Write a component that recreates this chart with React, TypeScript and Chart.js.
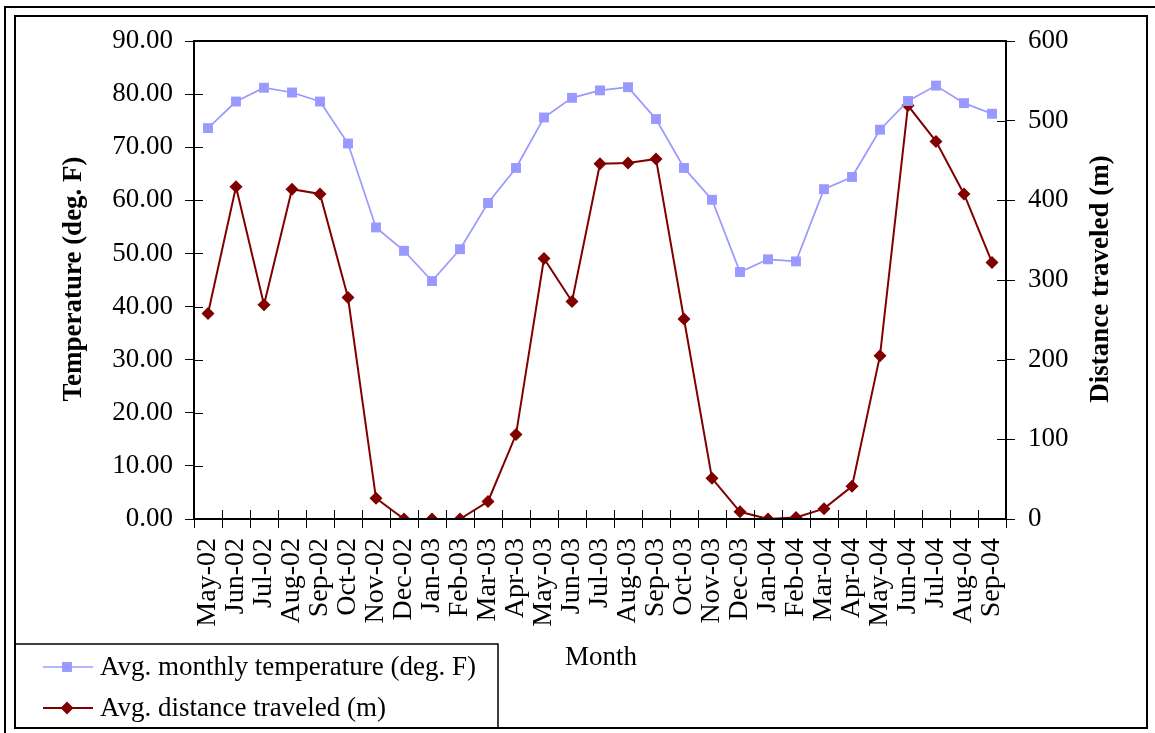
import React, { useEffect, useRef } from "react";
import { Chart, registerables } from "chart.js";

Chart.register(...registerables);

const months = [
  "May-02", "Jun-02", "Jul-02", "Aug-02", "Sep-02", "Oct-02", "Nov-02", "Dec-02",
  "Jan-03", "Feb-03", "Mar-03", "Apr-03", "May-03", "Jun-03", "Jul-03", "Aug-03",
  "Sep-03", "Oct-03", "Nov-03", "Dec-03", "Jan-04", "Feb-04", "Mar-04", "Apr-04",
  "May-04", "Jun-04", "Jul-04", "Aug-04", "Sep-04",
];

const temperature = [
  73.6, 78.6, 81.2, 80.3, 78.6, 70.7, 54.9, 50.5,
  44.8, 50.8, 59.5, 66.1, 75.6, 79.3, 80.7, 81.3,
  75.3, 66.1, 60.1, 46.5, 48.9, 48.5, 62.1, 64.4,
  73.3, 78.7, 81.6, 78.3, 76.3,
];

const distance = [
  258, 417, 269, 414, 408, 278, 26, 0,
  0, 0, 22, 106, 327, 273, 446, 447,
  452, 251, 51, 9, 0, 2, 13, 41,
  205, 519, 474, 408, 322,
];

const tempLabel = "Avg. monthly temperature (deg. F)";
const distLabel = "Avg. distance traveled (m)";
const leftTitle = "Temperature (deg. F)";
const rightTitle = "Distance traveled (m)";
const xTitle = "Month";

const FONT = "'Liberation Serif', 'Times New Roman', serif";
const W = 1155;
const H = 733;

const decorPlugin = {
  id: "decor",
  beforeDraw(chart: any) {
    const ctx = chart.ctx;
    ctx.save();
    ctx.fillStyle = "#ffffff";
    ctx.fillRect(0, 0, W, H);
    ctx.restore();
  },
  afterDraw(chart: any) {
    const ctx = chart.ctx;
    const { left, right, top, bottom } = chart.chartArea;
    ctx.save();
    // frames
    ctx.strokeStyle = "#000";
    ctx.lineWidth = 2;
    ctx.beginPath();
    ctx.moveTo(5, H);
    ctx.lineTo(5, 7);
    ctx.lineTo(W, 7);
    ctx.stroke();
    ctx.strokeRect(15, 16, 1147 - 15, 728 - 16);

    // plot area box
    ctx.lineWidth = 2;
    ctx.strokeRect(left, top, right - left, bottom - top);

    // inner halves of tick marks
    ctx.lineWidth = 1;
    const ys = chart.scales.y;
    ys.ticks.forEach((_t: any, i: number) => {
      const p = Math.round(ys.getPixelForTick(i)) + 0.5;
      ctx.beginPath();
      ctx.moveTo(left, p);
      ctx.lineTo(left + 9, p);
      ctx.stroke();
    });
    const y1 = chart.scales.y1;
    y1.ticks.forEach((_t: any, i: number) => {
      const p = Math.round(y1.getPixelForTick(i)) + 0.5;
      ctx.beginPath();
      ctx.moveTo(right - 9, p);
      ctx.lineTo(right, p);
      ctx.stroke();
    });
    const xs = chart.scales.x;
    for (let i = 0; i <= months.length; i++) {
      const p = Math.round(xs.getPixelForValue(i - 0.5)) + 0.5;
      ctx.beginPath();
      ctx.moveTo(p, bottom - 9);
      ctx.lineTo(p, bottom);
      ctx.stroke();
    }

    // axis titles
    ctx.fillStyle = "#000";
    ctx.textAlign = "center";
    ctx.textBaseline = "middle";
    ctx.font = `bold 27px ${FONT}`;
    ctx.save();
    ctx.translate(74, 279);
    ctx.rotate(-Math.PI / 2);
    ctx.fillText(leftTitle, 0, 0);
    ctx.restore();
    ctx.save();
    ctx.translate(1101, 279);
    ctx.rotate(-Math.PI / 2);
    ctx.fillText(rightTitle, 0, 0);
    ctx.restore();
    ctx.font = `27px ${FONT}`;
    ctx.fillText(xTitle, 601, 658);

    // legend
    ctx.lineWidth = 1.5;
    ctx.strokeStyle = "#000";
    ctx.strokeRect(15, 644, 498 - 15, 728 - 644);
    const rows = [
      { ds: chart.data.datasets[0], y: 667 },
      { ds: chart.data.datasets[1], y: 708 },
    ];
    rows.forEach(({ ds, y }) => {
      ctx.strokeStyle = ds.borderColor;
      ctx.lineWidth = ds.borderWidth;
      ctx.beginPath();
      ctx.moveTo(43, y);
      ctx.lineTo(93, y);
      ctx.stroke();
      ctx.fillStyle = ds.backgroundColor;
      ctx.beginPath();
      if (ds.pointStyle === "rect") {
        const s = ds.pointRadius * Math.SQRT1_2;
        ctx.rect(67 - s, y - s, 2 * s, 2 * s);
      } else {
        const r = ds.pointRadius;
        ctx.moveTo(67, y - r);
        ctx.lineTo(67 + r, y);
        ctx.lineTo(67, y + r);
        ctx.lineTo(67 - r, y);
        ctx.closePath();
      }
      ctx.fill();
      ctx.fillStyle = "#000";
      ctx.textAlign = "left";
      ctx.font = `27px ${FONT}`;
      ctx.fillText(ds.label, 100, y + 1);
    });
    ctx.restore();
  },
};

export default function App() {
  const ref = useRef<HTMLCanvasElement | null>(null);

  useEffect(() => {
    if (!ref.current) return;
    const chart = new Chart(ref.current, {
      type: "line",
      data: {
        labels: months,
        datasets: [
          {
            label: tempLabel,
            data: temperature,
            yAxisID: "y",
            borderColor: "#9999FF",
            backgroundColor: "#9999FF",
            borderWidth: 1.7,
            pointStyle: "rect",
            pointRadius: 7,
            pointHoverRadius: 7,
            pointBorderWidth: 0,
            tension: 0,
          },
          {
            label: distLabel,
            data: distance,
            yAxisID: "y1",
            borderColor: "#800000",
            backgroundColor: "#800000",
            borderWidth: 2,
            pointStyle: "rectRot",
            pointRadius: 6.5,
            pointHoverRadius: 6.5,
            pointBorderWidth: 0,
            tension: 0,
          },
        ],
      },
      options: {
        responsive: false,
        animation: false,
        devicePixelRatio: 1,
        layout: { padding: { top: 41, left: 0, right: 0, bottom: 0 } },
        plugins: {
          legend: { display: false },
          tooltip: { enabled: false },
        },
        scales: {
          x: {
            type: "category",
            offset: true,
            grid: {
              offset: true,
              drawOnChartArea: false,
              drawTicks: true,
              tickLength: 9,
              color: "#000",
              lineWidth: 1,
            },
            border: { color: "#000", width: 2 },
            ticks: {
              autoSkip: false,
              maxRotation: 90,
              minRotation: 90,
              padding: 10,
              color: "#000",
              font: { family: FONT, size: 28 },
            },
            afterFit: (s: any) => {
              s.height = H - 519;
            },
          },
          y: {
            position: "left",
            min: 0,
            max: 90,
            grid: {
              drawOnChartArea: false,
              tickLength: 9,
              color: "#000",
              lineWidth: 1,
            },
            border: { color: "#000", width: 2 },
            ticks: {
              stepSize: 10,
              padding: 12,
              color: "#000",
              font: { family: FONT, size: 27 },
              callback: (v: any) => Number(v).toFixed(2),
            },
            afterFit: (s: any) => {
              s.width = 194;
            },
          },
          y1: {
            position: "right",
            min: 0,
            max: 600,
            grid: {
              drawOnChartArea: false,
              tickLength: 9,
              color: "#000",
              lineWidth: 1,
            },
            border: { color: "#000", width: 2 },
            ticks: {
              stepSize: 100,
              padding: 13,
              color: "#000",
              font: { family: FONT, size: 27 },
            },
            afterFit: (s: any) => {
              s.width = W - 1006;
            },
          },
        },
      },
      plugins: [decorPlugin],
    } as any);
    return () => chart.destroy();
  }, []);

  return (
    <div style={{ position: "fixed", left: 0, top: 0, width: W, height: H, background: "#fff" }}>
      <canvas ref={ref} width={W} height={H} style={{ display: "block", width: W, height: H }} />
    </div>
  );
}
